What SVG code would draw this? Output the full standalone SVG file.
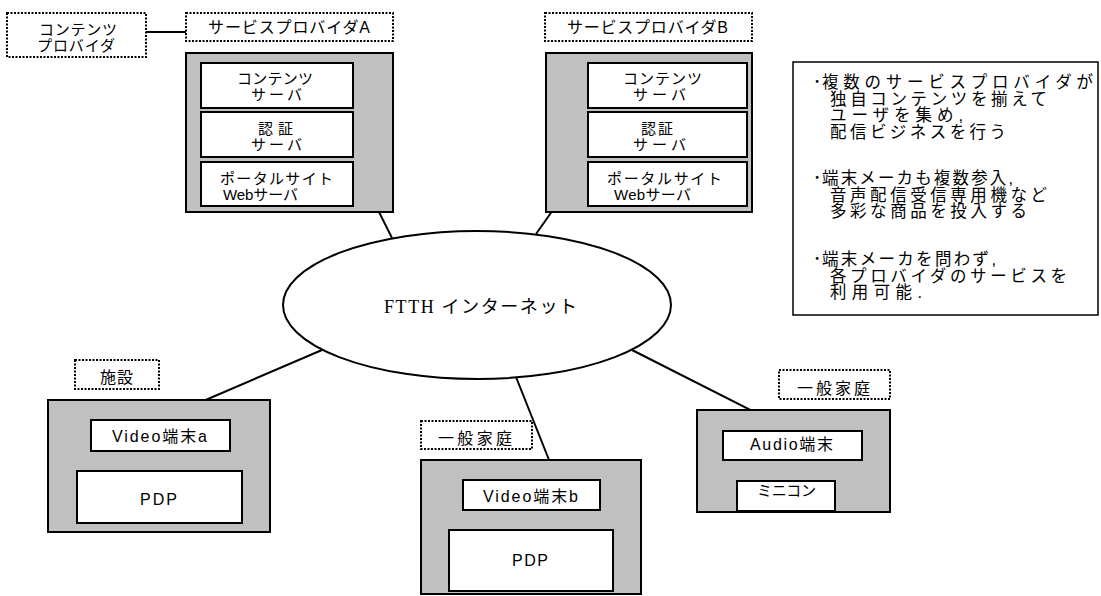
<svg xmlns="http://www.w3.org/2000/svg" width="1101" height="596" viewBox="0 0 1101 596">
  <style>
    text { font-family: "Liberation Sans", "Noto Sans CJK JP", sans-serif; font-size: 15px; fill: #000; }
    .tagtxt { font-size: 16px; }
    .lbl { font-size: 16px; }
    .note { font-size: 16.5px; }
    .net { font-family: "Liberation Serif", "Noto Sans CJK JP", serif; font-size: 18px; }
    .tag { fill: #fff; stroke: #000; stroke-width: 2; stroke-dasharray: 2 1.5; }
    .site { fill: #c0c0c0; stroke: #000; stroke-width: 2; }
    .box { fill: #fff; stroke: #000; stroke-width: 2; }
    .frame { fill: #fff; stroke: #000; stroke-width: 1.5; }
    .link { fill: none; stroke: #000; stroke-width: 2; }
  </style>
  <rect width="1101" height="596" fill="#fff"/>

  <!-- connectors -->
  <g id="connectors">
    <line class="link" x1="146" y1="32" x2="186" y2="32"/>
    <polyline class="link" points="353,83 364,83 364,182 353,182"/>
    <line class="link" x1="353" y1="132" x2="364" y2="132"/>
    <line class="link" x1="364" y1="182" x2="392" y2="238"/>
    <polyline class="link" points="588,82 572,82 572,183 588,183"/>
    <line class="link" x1="572" y1="132" x2="588" y2="132"/>
    <line class="link" x1="572" y1="183" x2="536" y2="234"/>
    <line class="link" x1="159" y1="420" x2="322" y2="350"/>
    <line class="link" x1="159" y1="451" x2="159" y2="471"/>
    <line class="link" x1="557" y1="480" x2="516" y2="377"/>
    <line class="link" x1="531" y1="510" x2="531" y2="530"/>
    <line class="link" x1="792" y1="431" x2="632" y2="350"/>
    <line class="link" x1="792" y1="460" x2="792" y2="481"/>
  </g>

  <!-- content provider -->
  <g id="content-provider">
    <rect class="tag" x="7" y="13" width="139" height="44"/>
    <text x="39" y="35" textLength="78" lengthAdjust="spacing">コンテンツ</text>
    <text x="37" y="51" textLength="78" lengthAdjust="spacing">プロバイダ</text>
  </g>

  <!-- service provider A -->
  <g id="provider-a">
    <rect class="tag" x="186" y="13" width="207" height="28"/>
    <text class="tagtxt" x="208" y="33" textLength="162" lengthAdjust="spacing">サービスプロバイダA</text>
    <rect class="site" x="186" y="53" width="207" height="159"/>
  </g>
  <g id="a-contents-server">
    <rect class="box" x="201" y="63" width="152" height="45"/>
    <text x="237" y="84" textLength="76" lengthAdjust="spacing">コンテンツ</text>
    <text x="251" y="100" textLength="51" lengthAdjust="spacing">サーバ</text>
  </g>
  <g id="a-auth-server">
    <rect class="box" x="201" y="112" width="152" height="45"/>
    <text x="258" y="134" textLength="35" lengthAdjust="spacing">認証</text>
    <text x="251" y="150" textLength="51" lengthAdjust="spacing">サーバ</text>
  </g>
  <g id="a-portal-server">
    <rect class="box" x="201" y="162" width="152" height="44"/>
    <text x="220" y="184" textLength="113" lengthAdjust="spacing">ポータルサイト</text>
    <text x="223" y="200" textLength="75" lengthAdjust="spacing">Webサーバ</text>
  </g>

  <!-- service provider B -->
  <g id="provider-b">
    <rect class="tag" x="545" y="13" width="207" height="28"/>
    <text class="tagtxt" x="567" y="33" textLength="161" lengthAdjust="spacing">サービスプロバイダB</text>
    <rect class="site" x="546" y="53" width="206" height="159"/>
  </g>
  <g id="b-contents-server">
    <rect class="box" x="588" y="63" width="159" height="45"/>
    <text x="623" y="84" textLength="79" lengthAdjust="spacing">コンテンツ</text>
    <text x="633" y="100" textLength="53" lengthAdjust="spacing">サーバ</text>
  </g>
  <g id="b-auth-server">
    <rect class="box" x="588" y="112" width="159" height="45"/>
    <text x="641" y="134" textLength="32" lengthAdjust="spacing">認証</text>
    <text x="633" y="150" textLength="53" lengthAdjust="spacing">サーバ</text>
  </g>
  <g id="b-portal-server">
    <rect class="box" x="588" y="162" width="159" height="44"/>
    <text x="607" y="184" textLength="115" lengthAdjust="spacing">ポータルサイト</text>
    <text x="614" y="200" textLength="77" lengthAdjust="spacing">Webサーバ</text>
  </g>

  <!-- notes: bullet drawn tight against the first word of each item -->
  <g id="notes">
    <rect class="frame" x="793" y="62" width="305" height="253"/>
    <text class="note" x="813" y="88">･</text>
    <text class="note" x="822" y="88" textLength="271" lengthAdjust="spacing">複数のサービスプロバイダが</text>
    <text class="note" x="830" y="104.5" textLength="217" lengthAdjust="spacing">独自コンテンツを揃えて</text>
    <text class="note" x="830" y="121" textLength="133" lengthAdjust="spacing">ユーザを集め,</text>
    <text class="note" x="830" y="137.5" textLength="176" lengthAdjust="spacing">配信ビジネスを行う</text>
    <text class="note" x="813" y="184">･</text>
    <text class="note" x="822" y="184" textLength="191" lengthAdjust="spacing">端末メーカも複数参入,</text>
    <text class="note" x="830" y="200.5" textLength="217" lengthAdjust="spacing">音声配信受信専用機など</text>
    <text class="note" x="830" y="217" textLength="197" lengthAdjust="spacing">多彩な商品を投入する</text>
    <text class="note" x="813" y="265">･</text>
    <text class="note" x="822" y="265" textLength="174" lengthAdjust="spacing">端末メーカを問わず,</text>
    <text class="note" x="830" y="281.5" textLength="237" lengthAdjust="spacing">各プロバイダのサービスを</text>
    <text class="note" x="830" y="298" textLength="92" lengthAdjust="spacing">利用可能.</text>
  </g>

  <!-- network -->
  <g id="ftth-internet">
    <ellipse cx="477" cy="305" rx="194" ry="74" fill="#fff" stroke="#000" stroke-width="2"/>
    <text class="net" x="384" y="313" textLength="193" lengthAdjust="spacing">FTTH インターネット</text>
  </g>

  <!-- facility -->
  <g id="facility">
    <rect class="tag" x="75" y="360" width="84" height="29"/>
    <text class="tagtxt" x="100" y="383" textLength="33" lengthAdjust="spacing">施設</text>
    <rect class="site" x="48" y="400" width="222" height="132"/>
  </g>
  <g id="video-terminal-a">
    <rect class="box" x="91" y="420" width="139" height="31"/>
    <text class="lbl" x="112" y="442" textLength="95" lengthAdjust="spacing">Video端末a</text>
  </g>
  <g id="pdp-a">
    <rect class="box" x="77" y="471" width="165" height="52"/>
    <text class="lbl" x="140" y="505" textLength="37" lengthAdjust="spacing">PDP</text>
  </g>

  <!-- home with video terminal -->
  <g id="home-video">
    <rect class="tag" x="421" y="421" width="111" height="28"/>
    <text class="tagtxt" x="438" y="444" textLength="74" lengthAdjust="spacing">一般家庭</text>
    <rect class="site" x="421" y="460" width="220" height="134"/>
  </g>
  <g id="video-terminal-b">
    <rect class="box" x="463" y="480" width="137" height="30"/>
    <text class="lbl" x="483" y="502" textLength="95" lengthAdjust="spacing">Video端末b</text>
  </g>
  <g id="pdp-b">
    <rect class="box" x="449" y="530" width="164" height="61"/>
    <text class="lbl" x="512" y="566" textLength="36" lengthAdjust="spacing">PDP</text>
  </g>

  <!-- home with audio terminal -->
  <g id="home-audio">
    <rect class="tag" x="779" y="370" width="111" height="29"/>
    <text class="tagtxt" x="797" y="394" textLength="73" lengthAdjust="spacing">一般家庭</text>
    <rect class="site" x="697" y="410" width="193" height="102"/>
  </g>
  <g id="audio-terminal">
    <rect class="box" x="723" y="431" width="139" height="29"/>
    <text class="lbl" x="750" y="450" textLength="83" lengthAdjust="spacing">Audio端末</text>
  </g>
  <g id="mini-component">
    <rect class="box" x="737" y="481" width="98" height="30"/>
    <text x="757" y="496" textLength="59" lengthAdjust="spacing">ミニコン</text>
  </g>
</svg>
